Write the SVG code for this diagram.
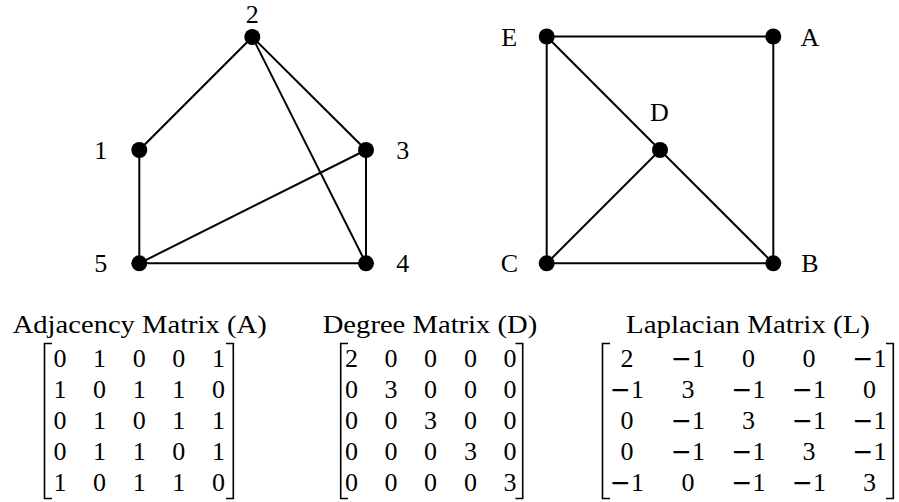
<svg xmlns="http://www.w3.org/2000/svg" width="899" height="502" viewBox="0 0 899 502">
<style>
.e{stroke:#000;stroke-width:2;fill:none}
.n{fill:#000}
.t{font-family:"Liberation Serif","DejaVu Serif",serif;font-size:26px;fill:#000;text-anchor:middle}
.m{font-family:"DejaVu Sans",sans-serif;font-size:25px}
.b{stroke:#000;stroke-width:1.6;fill:none}
</style>
<rect width="899" height="502" fill="#fff"/>
<g id="edges">
<line class="e" x1="139.3" y1="150" x2="252.3" y2="37"/>
<line class="e" x1="252.3" y1="37" x2="366" y2="150"/>
<line class="e" x1="252.3" y1="37" x2="366" y2="263.3"/>
<line class="e" x1="366" y1="150" x2="366" y2="263.3"/>
<line class="e" x1="366" y1="150" x2="139.3" y2="263.3"/>
<line class="e" x1="139.3" y1="150" x2="139.3" y2="263.3"/>
<line class="e" x1="139.3" y1="263.3" x2="366" y2="263.3"/>
<line class="e" x1="546.7" y1="36.5" x2="773.3" y2="36.5"/>
<line class="e" x1="773.3" y1="36.5" x2="773.3" y2="263.3"/>
<line class="e" x1="546.7" y1="36.5" x2="546.7" y2="263.3"/>
<line class="e" x1="546.7" y1="263.3" x2="773.3" y2="263.3"/>
<line class="e" x1="546.7" y1="36.5" x2="660" y2="150"/>
<line class="e" x1="660" y1="150" x2="773.3" y2="263.3"/>
<line class="e" x1="660" y1="150" x2="546.7" y2="263.3"/>
</g>
<g id="n1"><circle class="n" cx="139.3" cy="150" r="8"/><text class="t" x="100.7" y="159">1</text></g>
<g id="n2"><circle class="n" cx="252.3" cy="37" r="8"/><text class="t" x="252.3" y="22.5">2</text></g>
<g id="n3"><circle class="n" cx="366" cy="150" r="8"/><text class="t" x="402.7" y="159">3</text></g>
<g id="n4"><circle class="n" cx="366" cy="263.3" r="8"/><text class="t" x="402.7" y="272">4</text></g>
<g id="n5"><circle class="n" cx="139.3" cy="263.3" r="8"/><text class="t" x="100.7" y="272">5</text></g>
<g id="nE"><circle class="n" cx="546.7" cy="36.5" r="8"/><text class="t" x="509.3" y="45.5">E</text></g>
<g id="nA"><circle class="n" cx="773.3" cy="36.5" r="8"/><text class="t" x="810" y="45.5">A</text></g>
<g id="nD"><circle class="n" cx="660" cy="150" r="8"/><text class="t" x="659.3" y="121">D</text></g>
<g id="nC"><circle class="n" cx="546.7" cy="263.3" r="8"/><text class="t" x="509.3" y="272">C</text></g>
<g id="nB"><circle class="n" cx="773.3" cy="263.3" r="8"/><text class="t" x="810" y="272">B</text></g>

<g id="matA">
<text class="t" x="139.7" y="332.5" textLength="254" lengthAdjust="spacingAndGlyphs">Adjacency Matrix (A)</text>
<path class="b" d="M52,343.5 H44.5 V498.5 H52 M226,343.5 H233.3 V498.5 H226"/>
<g class="t">
<text x="60" y="367">0</text><text x="99.6" y="367">1</text><text x="139.2" y="367">0</text><text x="178.8" y="367">0</text><text x="218.4" y="367">1</text>
<text x="60" y="398">1</text><text x="99.6" y="398">0</text><text x="139.2" y="398">1</text><text x="178.8" y="398">1</text><text x="218.4" y="398">0</text>
<text x="60" y="429">0</text><text x="99.6" y="429">1</text><text x="139.2" y="429">0</text><text x="178.8" y="429">1</text><text x="218.4" y="429">1</text>
<text x="60" y="460">0</text><text x="99.6" y="460">1</text><text x="139.2" y="460">1</text><text x="178.8" y="460">0</text><text x="218.4" y="460">1</text>
<text x="60" y="491">1</text><text x="99.6" y="491">0</text><text x="139.2" y="491">1</text><text x="178.8" y="491">1</text><text x="218.4" y="491">0</text>
</g>
</g>

<g id="matD">
<text class="t" x="430" y="332.5" textLength="214.6" lengthAdjust="spacingAndGlyphs">Degree Matrix (D)</text>
<path class="b" d="M348,343.5 H340.7 V498.5 H348 M515.5,343.5 H522.7 V498.5 H515.5"/>
<g class="t">
<text x="351.5" y="367">2</text><text x="391" y="367">0</text><text x="430.5" y="367">0</text><text x="470.5" y="367">0</text><text x="510" y="367">0</text>
<text x="351.5" y="398">0</text><text x="391" y="398">3</text><text x="430.5" y="398">0</text><text x="470.5" y="398">0</text><text x="510" y="398">0</text>
<text x="351.5" y="429">0</text><text x="391" y="429">0</text><text x="430.5" y="429">3</text><text x="470.5" y="429">0</text><text x="510" y="429">0</text>
<text x="351.5" y="460">0</text><text x="391" y="460">0</text><text x="430.5" y="460">0</text><text x="470.5" y="460">3</text><text x="510" y="460">0</text>
<text x="351.5" y="491">0</text><text x="391" y="491">0</text><text x="430.5" y="491">0</text><text x="470.5" y="491">0</text><text x="510" y="491">3</text>
</g>
</g>

<g id="matL">
<text class="t" x="748" y="332.5" textLength="244" lengthAdjust="spacingAndGlyphs">Laplacian Matrix (L)</text>
<path class="b" d="M610,343.5 H602.5 V498.5 H610 M886,343.5 H893.3 V498.5 H886"/>
<g class="t">
<text x="627" y="367">2</text><text x="688" y="367"><tspan class="m">−</tspan>1</text><text x="748.5" y="367">0</text><text x="809" y="367">0</text><text x="869.5" y="367"><tspan class="m">−</tspan>1</text>
<text x="627" y="398"><tspan class="m">−</tspan>1</text><text x="688" y="398">3</text><text x="748.5" y="398"><tspan class="m">−</tspan>1</text><text x="809" y="398"><tspan class="m">−</tspan>1</text><text x="869.5" y="398">0</text>
<text x="627" y="429">0</text><text x="688" y="429"><tspan class="m">−</tspan>1</text><text x="748.5" y="429">3</text><text x="809" y="429"><tspan class="m">−</tspan>1</text><text x="869.5" y="429"><tspan class="m">−</tspan>1</text>
<text x="627" y="460">0</text><text x="688" y="460"><tspan class="m">−</tspan>1</text><text x="748.5" y="460"><tspan class="m">−</tspan>1</text><text x="809" y="460">3</text><text x="869.5" y="460"><tspan class="m">−</tspan>1</text>
<text x="627" y="491"><tspan class="m">−</tspan>1</text><text x="688" y="491">0</text><text x="748.5" y="491"><tspan class="m">−</tspan>1</text><text x="809" y="491"><tspan class="m">−</tspan>1</text><text x="869.5" y="491">3</text>
</g>
</g>
</svg>
